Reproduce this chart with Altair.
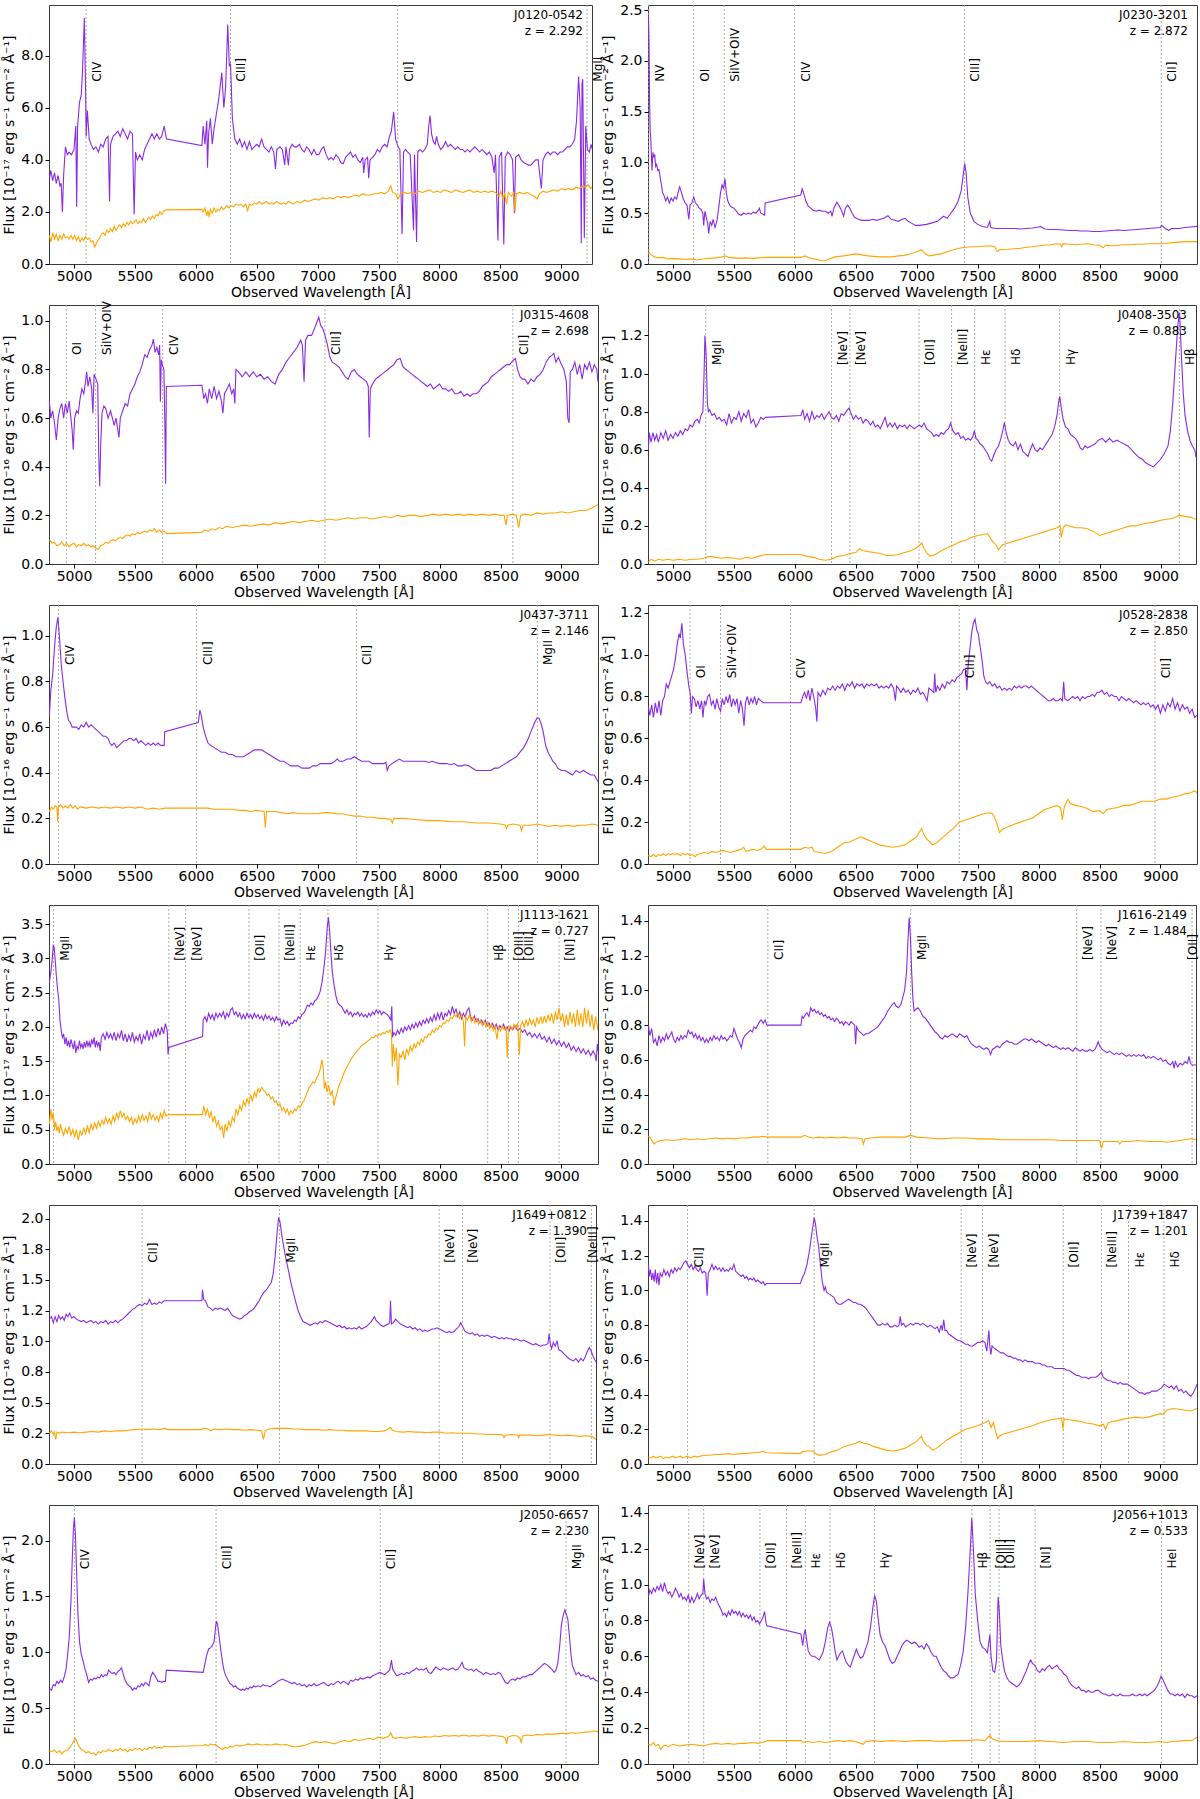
import altair as alt
import pandas as pd

# ---------------------------------------------------------------------------
# Spectra: (observed wavelength [Å], flux) pairs.
#   *_A : primary spectrum (purple trace)
#   *_B : secondary spectrum (orange trace)
# ---------------------------------------------------------------------------

J0120_A = [(4800,3.3),(4810,3.6),(4825,3.2),(4840,3.5),(4855,3.1),(4870,3.4),(4885,3.0),(4895,3.1),(4905,2.0),(4915,3.4),(4930,4.5),(4945,4.2),(4960,4.3),(4980,4.2),(5000,4.4),(5015,5.3),(5022,2.2),(5030,5.3),(5045,6.2),(5060,6.5),(5070,7.4),(5085,9.45),(5095,6.8),(5100,4.9),(5110,5.9),(5125,4.8),(5140,4.6),(5160,4.4),(5180,4.5),(5200,4.3),(5220,4.6),(5240,4.5),(5260,4.8),(5280,4.9),(5292,2.4),(5300,4.6),(5320,4.9),(5340,5.0),(5360,5.1),(5380,4.9),(5400,5.2),(5420,5.0),(5440,4.8),(5460,5.1),(5480,5.0),(5494,1.9),(5505,4.3),(5520,4.0),(5540,4.2),(5560,4.0),(5580,4.4),(5600,4.6),(5620,4.8),(5640,5.0),(5660,4.8),(5680,5.0),(5700,4.8),(5720,4.9),(5740,5.3),(5760,4.8),(6050,4.55),(6060,5.3),(6075,4.6),(6090,5.5),(6096,3.7),(6105,5.0),(6120,5.6),(6135,4.6),(6150,5.2),(6170,5.8),(6190,6.4),(6213,7.35),(6230,6.0),(6245,6.8),(6262,9.2),(6275,7.6),(6285,7.7),(6300,5.6),(6320,4.8),(6340,4.6),(6360,4.8),(6380,4.5),(6400,4.7),(6420,4.4),(6440,4.7),(6460,4.4),(6480,4.5),(6500,4.6),(6520,4.5),(6540,4.8),(6560,4.5),(6580,4.4),(6600,4.3),(6620,4.5),(6640,4.3),(6654,3.65),(6665,4.4),(6690,4.5),(6710,4.4),(6730,3.8),(6740,4.5),(6760,3.8),(6770,4.4),(6790,4.6),(6810,4.5),(6830,4.5),(6850,4.6),(6870,4.4),(6890,4.3),(6910,4.5),(6930,4.4),(6950,4.2),(6970,4.4),(6990,4.2),(7010,4.2),(7030,4.4),(7050,4.5),(7070,4.2),(7090,4.0),(7110,4.1),(7130,4.0),(7150,4.2),(7170,4.1),(7190,3.9),(7210,3.85),(7230,4.1),(7250,4.2),(7270,4.3),(7290,4.1),(7310,4.2),(7330,4.0),(7350,3.9),(7370,4.1),(7378,3.5),(7390,4.0),(7410,4.1),(7419,3.3),(7430,4.0),(7450,4.1),(7470,4.2),(7490,4.4),(7510,4.3),(7530,4.5),(7550,4.6),(7570,4.5),(7590,4.9),(7605,5.1),(7624,5.85),(7640,4.8),(7660,4.5),(7675,4.4),(7693,1.15),(7705,4.3),(7720,4.4),(7740,4.3),(7760,4.2),(7787,1.3),(7795,4.2),(7812,0.85),(7822,4.3),(7840,4.4),(7860,4.3),(7880,4.4),(7900,4.6),(7912,5.3),(7923,5.7),(7935,5.0),(7950,4.7),(7965,4.6),(7976,4.9),(7990,4.6),(8010,4.4),(8030,4.5),(8050,4.7),(8070,4.5),(8090,4.6),(8110,4.5),(8130,4.4),(8150,4.5),(8170,4.4),(8190,4.4),(8210,4.3),(8230,4.4),(8250,4.3),(8270,4.4),(8290,4.5),(8310,4.4),(8330,4.3),(8350,4.4),(8370,4.3),(8390,4.2),(8410,4.3),(8430,4.1),(8449,3.5),(8460,4.2),(8480,0.9),(8490,4.1),(8510,4.3),(8528,0.75),(8540,4.1),(8560,4.3),(8580,4.2),(8600,4.0),(8615,1.95),(8625,4.1),(8650,4.2),(8670,4.0),(8690,3.9),(8710,3.85),(8730,3.8),(8750,3.8),(8770,3.9),(8790,4.0),(8810,4.0),(8836,2.9),(8850,4.0),(8870,4.2),(8890,4.3),(8910,4.2),(8930,4.3),(8950,4.3),(8970,4.2),(8990,4.3),(9010,4.3),(9030,4.4),(9050,4.5),(9070,4.5),(9090,4.6),(9110,4.8),(9125,5.5),(9142,7.2),(9155,6.0),(9164,0.8),(9170,6.9),(9176,7.1),(9189,1.0),(9201,5.3),(9215,4.4),(9230,4.3),(9245,4.6),(9255,4.4)]
J0120_B = [(4798,1.1),(4810,0.85),(4825,1.2),(4840,0.95),(4855,1.15),(4870,0.9),(4885,1.1),(4900,0.95),(4915,1.15),(4930,1.0),(4945,1.05),(4960,0.95),(4975,1.1),(4990,0.95),(5005,1.1),(5020,0.9),(5035,1.05),(5050,0.85),(5065,1.0),(5080,0.9),(5095,1.05),(5110,0.95),(5125,1.0),(5140,0.85),(5155,0.9),(5170,0.65),(5180,0.75),(5195,0.9),(5210,1.0),(5225,1.15),(5240,1.2),(5255,1.1),(5270,1.3),(5285,1.2),(5300,1.35),(5315,1.25),(5330,1.45),(5345,1.3),(5360,1.4),(5375,1.5),(5390,1.4),(5405,1.55),(5420,1.45),(5435,1.6),(5450,1.5),(5465,1.65),(5480,1.55),(5495,1.6),(5510,1.7),(5525,1.55),(5540,1.65),(5555,1.6),(5570,1.75),(5585,1.6),(5600,1.7),(5615,1.8),(5630,1.7),(5645,1.85),(5660,1.75),(5675,1.9),(5690,1.85),(5705,2.0),(5720,1.9),(5740,2.05),(5760,2.08),(6050,2.1),(6060,2.0),(6075,2.15),(6090,1.85),(6100,2.05),(6110,1.8),(6120,2.1),(6135,1.95),(6150,2.15),(6165,2.0),(6180,2.1),(6195,2.05),(6210,2.2),(6225,2.1),(6240,2.15),(6255,2.25),(6270,2.15),(6290,2.25),(6310,2.2),(6330,2.3),(6350,2.25),(6370,2.3),(6390,2.2),(6410,2.3),(6425,2.05),(6440,2.3),(6460,2.25),(6480,2.35),(6500,2.3),(6520,2.4),(6540,2.3),(6560,2.35),(6580,2.4),(6600,2.3),(6620,2.35),(6640,2.3),(6660,2.4),(6680,2.35),(6700,2.3),(6720,2.35),(6740,2.3),(6760,2.4),(6780,2.35),(6800,2.3),(6830,2.4),(6860,2.35),(6890,2.45),(6920,2.4),(6950,2.45),(6980,2.5),(7010,2.45),(7040,2.55),(7070,2.5),(7100,2.55),(7130,2.5),(7160,2.6),(7190,2.55),(7220,2.6),(7250,2.55),(7280,2.6),(7310,2.65),(7340,2.6),(7370,2.7),(7400,2.65),(7430,2.65),(7460,2.7),(7490,2.7),(7520,2.75),(7550,2.7),(7580,2.8),(7600,3.0),(7615,2.75),(7640,2.7),(7660,2.5),(7680,2.7),(7710,2.75),(7740,2.7),(7770,2.75),(7800,2.7),(7830,2.8),(7860,2.75),(7890,2.8),(7920,2.85),(7950,2.75),(7980,2.8),(8010,2.75),(8040,2.85),(8070,2.8),(8100,2.75),(8130,2.85),(8160,2.8),(8190,2.75),(8220,2.8),(8250,2.85),(8280,2.75),(8310,2.8),(8340,2.75),(8370,2.8),(8400,2.75),(8430,2.8),(8460,2.75),(8490,2.6),(8505,2.8),(8520,2.5),(8535,2.7),(8550,2.3),(8565,2.75),(8590,2.6),(8610,2.75),(8620,2.0),(8630,2.7),(8660,2.75),(8690,2.7),(8720,2.75),(8750,2.65),(8780,2.6),(8800,2.5),(8820,2.7),(8850,2.8),(8880,2.75),(8910,2.8),(8940,2.85),(8970,2.8),(9000,2.9),(9030,2.85),(9060,2.9),(9090,2.85),(9120,2.95),(9150,2.9),(9180,3.0),(9200,2.95),(9220,3.05),(9240,2.9),(9255,2.95)]

J0230_A = [(4798,2.45),(4803,2.2),(4808,1.6),(4813,1.3),(4818,1.24),(4822,1.1),(4828,0.92),(4835,1.1),(4842,1.05),(4850,1.08),(4858,0.96),(4866,0.98),(4875,0.92),(4885,0.93),(4895,0.85),(4905,0.78),(4915,0.7),(4925,0.68),(4940,0.62),(4955,0.66),(4970,0.6),(4985,0.65),(5000,0.62),(5015,0.66),(5030,0.64),(5045,0.72),(5055,0.76),(5070,0.7),(5085,0.64),(5100,0.6),(5115,0.58),(5130,0.44),(5140,0.58),(5155,0.6),(5170,0.66),(5185,0.6),(5200,0.58),(5215,0.55),(5230,0.54),(5245,0.5),(5252,0.38),(5262,0.52),(5275,0.45),(5285,0.4),(5293,0.3),(5305,0.42),(5318,0.38),(5330,0.44),(5345,0.36),(5360,0.42),(5375,0.55),(5390,0.7),(5403,0.78),(5415,0.74),(5427,0.84),(5438,0.7),(5450,0.62),(5465,0.58),(5480,0.56),(5500,0.55),(5520,0.52),(5540,0.49),(5560,0.48),(5580,0.5),(5600,0.49),(5620,0.5),(5640,0.49),(5660,0.51),(5680,0.5),(5700,0.53),(5709,0.55),(5720,0.5),(5740,0.49),(5752,0.48),(5756,0.6),(6049,0.68),(6060,0.74),(6072,0.7),(6090,0.62),(6110,0.57),(6130,0.55),(6150,0.53),(6175,0.52),(6200,0.53),(6225,0.52),(6250,0.52),(6275,0.5),(6295,0.52),(6305,0.47),(6320,0.55),(6345,0.61),(6365,0.57),(6385,0.52),(6400,0.47),(6415,0.55),(6433,0.58),(6450,0.55),(6470,0.5),(6490,0.46),(6520,0.44),(6550,0.43),(6580,0.43),(6610,0.43),(6640,0.44),(6670,0.43),(6700,0.44),(6730,0.45),(6764,0.475),(6790,0.44),(6820,0.43),(6850,0.42),(6880,0.44),(6905,0.45),(6930,0.42),(6960,0.4),(6990,0.38),(7020,0.38),(7050,0.385),(7080,0.39),(7110,0.4),(7140,0.41),(7170,0.42),(7200,0.45),(7220,0.47),(7250,0.45),(7280,0.5),(7310,0.55),(7340,0.62),(7365,0.72),(7380,0.86),(7394,0.99),(7405,0.9),(7420,0.65),(7440,0.5),(7470,0.42),(7500,0.39),(7540,0.37),(7580,0.36),(7600,0.42),(7607,0.36),(7650,0.35),(7700,0.35),(7750,0.35),(7800,0.35),(7850,0.345),(7900,0.35),(7950,0.355),(8000,0.365),(8014,0.37),(8050,0.345),(8100,0.34),(8150,0.34),(8200,0.335),(8250,0.33),(8300,0.33),(8350,0.325),(8400,0.325),(8450,0.32),(8500,0.32),(8550,0.325),(8600,0.33),(8650,0.335),(8700,0.33),(8750,0.335),(8800,0.34),(8850,0.345),(8900,0.35),(8950,0.355),(9000,0.36),(9010,0.38),(9040,0.35),(9070,0.33),(9090,0.35),(9120,0.35),(9150,0.35),(9200,0.36),(9250,0.365),(9300,0.37)]
J0230_B = [(4798,0.12),(4820,0.09),(4850,0.07),(4880,0.06),(4920,0.065),(4960,0.05),(5000,0.055),(5050,0.05),(5100,0.045),(5150,0.05),(5200,0.04),(5250,0.05),(5300,0.055),(5350,0.06),(5400,0.07),(5430,0.08),(5460,0.065),(5500,0.06),(5550,0.055),(5600,0.06),(5650,0.055),(5700,0.06),(5756,0.065),(6049,0.065),(6080,0.08),(6120,0.06),(6160,0.05),(6200,0.04),(6240,0.03),(6280,0.05),(6330,0.07),(6400,0.08),(6450,0.09),(6500,0.1),(6550,0.09),(6600,0.08),(6650,0.075),(6700,0.07),(6750,0.07),(6800,0.07),(6850,0.08),(6900,0.085),(6950,0.1),(7000,0.12),(7040,0.14),(7070,0.1),(7100,0.08),(7150,0.09),(7200,0.1),(7250,0.12),(7300,0.14),(7350,0.155),(7400,0.165),(7450,0.17),(7500,0.17),(7550,0.175),(7600,0.18),(7640,0.17),(7660,0.125),(7680,0.14),(7750,0.145),(7800,0.15),(7850,0.155),(7900,0.165),(7950,0.17),(8000,0.18),(8050,0.185),(8100,0.19),(8150,0.2),(8180,0.195),(8190,0.17),(8200,0.2),(8250,0.195),(8300,0.19),(8350,0.195),(8400,0.2),(8450,0.19),(8500,0.185),(8530,0.16),(8550,0.185),(8600,0.18),(8650,0.185),(8700,0.19),(8750,0.19),(8800,0.195),(8850,0.195),(8900,0.2),(8950,0.2),(9000,0.2),(9050,0.205),(9100,0.21),(9150,0.215),(9200,0.22),(9250,0.22),(9300,0.22)]

J0315_A = [(4798,0.67),(4810,0.6),(4825,0.63),(4840,0.58),(4855,0.51),(4870,0.6),(4885,0.64),(4900,0.66),(4915,0.6),(4930,0.66),(4945,0.62),(4960,0.67),(4975,0.6),(4985,0.55),(4994,0.47),(5005,0.6),(5020,0.63),(5035,0.62),(5050,0.68),(5065,0.72),(5080,0.7),(5095,0.75),(5104,0.79),(5115,0.73),(5130,0.77),(5145,0.72),(5155,0.62),(5165,0.78),(5180,0.76),(5195,0.74),(5203,0.45),(5211,0.32),(5220,0.5),(5230,0.62),(5245,0.65),(5260,0.64),(5280,0.6),(5300,0.63),(5315,0.6),(5330,0.57),(5345,0.6),(5360,0.55),(5369,0.52),(5380,0.6),(5400,0.63),(5420,0.66),(5440,0.65),(5460,0.7),(5480,0.72),(5500,0.74),(5520,0.77),(5540,0.79),(5560,0.82),(5580,0.86),(5600,0.85),(5620,0.88),(5640,0.9),(5652,0.925),(5665,0.87),(5680,0.89),(5695,0.86),(5703,0.9),(5709,0.667),(5716,0.84),(5725,0.82),(5738,0.8),(5745,0.6),(5752,0.33),(5758,0.73),(6050,0.735),(6065,0.68),(6080,0.7),(6095,0.66),(6110,0.72),(6130,0.68),(6150,0.73),(6170,0.68),(6190,0.71),(6210,0.67),(6222,0.62),(6235,0.7),(6255,0.72),(6275,0.74),(6295,0.7),(6310,0.72),(6320,0.66),(6329,0.8),(6350,0.79),(6380,0.77),(6410,0.79),(6440,0.77),(6470,0.79),(6500,0.77),(6530,0.78),(6560,0.76),(6590,0.77),(6620,0.75),(6650,0.74),(6680,0.78),(6710,0.8),(6740,0.83),(6770,0.85),(6800,0.87),(6830,0.89),(6860,0.92),(6874,0.9),(6888,0.75),(6900,0.92),(6920,0.94),(6950,0.94),(6975,0.97),(6990,0.99),(7009,1.014),(7025,0.98),(7040,0.97),(7060,0.94),(7080,0.9),(7100,0.85),(7120,0.83),(7150,0.82),(7175,0.81),(7200,0.79),(7225,0.77),(7250,0.76),(7275,0.79),(7300,0.8),(7325,0.78),(7350,0.77),(7375,0.76),(7400,0.75),(7415,0.73),(7423,0.52),(7432,0.72),(7450,0.74),(7475,0.76),(7500,0.77),(7525,0.78),(7550,0.79),(7575,0.8),(7600,0.81),(7625,0.82),(7650,0.84),(7677,0.845),(7700,0.81),(7725,0.8),(7750,0.79),(7775,0.78),(7800,0.77),(7825,0.76),(7850,0.75),(7875,0.74),(7900,0.73),(7925,0.74),(7950,0.72),(7975,0.73),(8000,0.74),(8025,0.72),(8050,0.72),(8075,0.71),(8100,0.72),(8125,0.7),(8150,0.7),(8175,0.71),(8200,0.69),(8225,0.7),(8250,0.69),(8275,0.7),(8300,0.7),(8325,0.71),(8350,0.73),(8375,0.74),(8400,0.75),(8425,0.77),(8450,0.78),(8475,0.79),(8500,0.8),(8525,0.81),(8550,0.82),(8575,0.82),(8600,0.835),(8622,0.845),(8640,0.8),(8660,0.77),(8680,0.76),(8700,0.76),(8725,0.74),(8750,0.76),(8775,0.75),(8800,0.77),(8825,0.78),(8850,0.8),(8875,0.83),(8900,0.85),(8925,0.86),(8937,0.866),(8955,0.83),(8975,0.85),(9000,0.82),(9020,0.8),(9040,0.75),(9052,0.6),(9063,0.58),(9072,0.79),(9090,0.8),(9110,0.83),(9130,0.78),(9150,0.82),(9170,0.76),(9190,0.82),(9210,0.8),(9230,0.83),(9250,0.79),(9270,0.82),(9290,0.8),(9300,0.75)]
J0315_B = [(4798,0.1),(4820,0.085),(4840,0.09),(4860,0.075),(4880,0.08),(4900,0.09),(4920,0.075),(4940,0.085),(4960,0.07),(4980,0.08),(5000,0.085),(5020,0.07),(5040,0.08),(5060,0.075),(5080,0.085),(5100,0.075),(5120,0.08),(5140,0.07),(5160,0.075),(5180,0.065),(5200,0.06),(5220,0.075),(5240,0.08),(5260,0.09),(5280,0.085),(5300,0.095),(5320,0.1),(5340,0.095),(5360,0.105),(5380,0.11),(5400,0.105),(5420,0.115),(5440,0.12),(5460,0.115),(5480,0.125),(5500,0.12),(5520,0.13),(5540,0.125),(5560,0.13),(5580,0.135),(5600,0.13),(5620,0.14),(5640,0.135),(5660,0.145),(5680,0.13),(5700,0.14),(5720,0.13),(5740,0.135),(5758,0.125),(6050,0.13),(6070,0.14),(6100,0.135),(6130,0.145),(6160,0.14),(6190,0.15),(6220,0.145),(6250,0.155),(6300,0.15),(6350,0.155),(6400,0.16),(6450,0.155),(6500,0.16),(6550,0.165),(6600,0.16),(6650,0.17),(6700,0.165),(6750,0.17),(6800,0.175),(6850,0.17),(6900,0.175),(6950,0.18),(7000,0.175),(7050,0.18),(7100,0.185),(7150,0.18),(7200,0.185),(7250,0.19),(7300,0.185),(7350,0.19),(7400,0.19),(7450,0.185),(7500,0.19),(7550,0.195),(7600,0.19),(7650,0.2),(7700,0.195),(7750,0.2),(7800,0.2),(7850,0.195),(7900,0.2),(7950,0.205),(8000,0.2),(8050,0.205),(8100,0.2),(8150,0.205),(8200,0.2),(8250,0.205),(8300,0.2),(8350,0.205),(8400,0.2),(8450,0.205),(8500,0.2),(8530,0.2),(8545,0.16),(8555,0.2),(8600,0.205),(8630,0.2),(8650,0.15),(8665,0.2),(8700,0.205),(8750,0.2),(8800,0.21),(8850,0.205),(8900,0.21),(8950,0.21),(9000,0.215),(9050,0.21),(9100,0.215),(9150,0.22),(9200,0.22),(9250,0.23),(9300,0.245)]

J0408_A = [(4798,0.6),(4805,0.69),(4820,0.64),(4835,0.69),(4850,0.65),(4865,0.68),(4880,0.64),(4900,0.69),(4920,0.66),(4940,0.7),(4960,0.65),(4980,0.68),(5000,0.66),(5020,0.69),(5040,0.67),(5060,0.7),(5080,0.68),(5100,0.71),(5120,0.7),(5140,0.73),(5160,0.72),(5180,0.75),(5200,0.76),(5215,0.74),(5230,0.78),(5245,0.8),(5255,1.0),(5262,1.2),(5272,1.1),(5282,0.85),(5290,0.8),(5300,0.81),(5320,0.78),(5340,0.79),(5360,0.76),(5380,0.77),(5400,0.75),(5420,0.76),(5440,0.73),(5460,0.79),(5480,0.74),(5500,0.77),(5520,0.76),(5540,0.8),(5560,0.75),(5580,0.79),(5600,0.77),(5620,0.81),(5640,0.74),(5660,0.76),(5680,0.72),(5700,0.74),(5720,0.77),(5740,0.76),(5760,0.77),(6050,0.78),(6065,0.81),(6080,0.76),(6100,0.79),(6120,0.75),(6140,0.8),(6160,0.76),(6180,0.78),(6200,0.77),(6220,0.79),(6240,0.76),(6260,0.78),(6280,0.8),(6300,0.77),(6320,0.76),(6340,0.78),(6360,0.75),(6380,0.79),(6400,0.78),(6420,0.8),(6445,0.82),(6460,0.79),(6480,0.76),(6500,0.78),(6520,0.76),(6540,0.77),(6560,0.74),(6580,0.76),(6600,0.75),(6620,0.73),(6640,0.75),(6660,0.72),(6680,0.73),(6700,0.71),(6720,0.74),(6740,0.77),(6760,0.72),(6780,0.74),(6800,0.72),(6820,0.74),(6840,0.71),(6860,0.73),(6880,0.72),(6900,0.73),(6920,0.71),(6940,0.73),(6960,0.72),(6980,0.71),(7000,0.72),(7020,0.73),(7040,0.72),(7060,0.74),(7080,0.71),(7100,0.7),(7120,0.69),(7140,0.67),(7160,0.68),(7180,0.67),(7200,0.69),(7220,0.68),(7240,0.7),(7260,0.71),(7277,0.74),(7295,0.7),(7320,0.68),(7340,0.69),(7360,0.66),(7380,0.67),(7400,0.65),(7420,0.66),(7440,0.65),(7460,0.67),(7472,0.7),(7485,0.66),(7500,0.65),(7520,0.63),(7540,0.62),(7560,0.6),(7580,0.58),(7600,0.55),(7614,0.54),(7630,0.57),(7650,0.6),(7670,0.62),(7690,0.66),(7705,0.7),(7718,0.743),(7730,0.7),(7750,0.65),(7770,0.63),(7790,0.62),(7810,0.64),(7830,0.6),(7850,0.63),(7870,0.59),(7890,0.58),(7913,0.565),(7930,0.6),(7950,0.63),(7970,0.6),(7990,0.59),(8010,0.61),(8030,0.6),(8050,0.62),(8070,0.64),(8090,0.66),(8110,0.68),(8130,0.72),(8150,0.78),(8165,0.86),(8172,0.88),(8185,0.82),(8200,0.76),(8220,0.72),(8240,0.71),(8260,0.68),(8280,0.67),(8300,0.66),(8320,0.64),(8340,0.61),(8360,0.6),(8380,0.62),(8400,0.61),(8430,0.62),(8460,0.63),(8490,0.65),(8520,0.66),(8550,0.64),(8580,0.66),(8610,0.64),(8640,0.65),(8670,0.64),(8700,0.63),(8730,0.62),(8760,0.6),(8790,0.58),(8820,0.56),(8850,0.55),(8880,0.53),(8910,0.52),(8940,0.51),(8970,0.53),(9000,0.55),(9030,0.58),(9060,0.62),(9080,0.7),(9100,0.85),(9120,1.05),(9140,1.25),(9155,1.32),(9170,1.1),(9185,0.9),(9200,0.78),(9220,0.7),(9240,0.65),(9260,0.62),(9280,0.6),(9290,0.56)]
J0408_B = [(4798,0.01),(4820,0.025),(4850,0.015),(4880,0.025),(4920,0.02),(4960,0.025),(5000,0.02),(5050,0.025),(5100,0.02),(5150,0.025),(5200,0.025),(5250,0.03),(5300,0.04),(5350,0.035),(5400,0.03),(5450,0.035),(5500,0.03),(5550,0.025),(5600,0.035),(5650,0.03),(5700,0.04),(5760,0.05),(6050,0.05),(6100,0.04),(6150,0.035),(6200,0.025),(6250,0.02),(6300,0.025),(6350,0.04),(6400,0.045),(6450,0.055),(6500,0.06),(6530,0.08),(6560,0.07),(6600,0.065),(6650,0.06),(6700,0.055),(6750,0.045),(6800,0.045),(6850,0.05),(6900,0.06),(6950,0.07),(7000,0.085),(7040,0.11),(7060,0.08),(7080,0.06),(7110,0.04),(7150,0.05),(7200,0.07),(7250,0.085),(7300,0.1),(7350,0.115),(7400,0.125),(7450,0.14),(7500,0.15),(7550,0.155),(7580,0.16),(7600,0.14),(7620,0.12),(7650,0.1),(7670,0.075),(7700,0.1),(7750,0.11),(7800,0.12),(7850,0.13),(7900,0.14),(7950,0.15),(8000,0.16),(8050,0.17),(8100,0.18),(8150,0.19),(8175,0.2),(8185,0.14),(8200,0.19),(8220,0.205),(8250,0.2),(8300,0.19),(8350,0.19),(8400,0.185),(8450,0.17),(8500,0.15),(8550,0.16),(8600,0.17),(8650,0.18),(8700,0.19),(8750,0.2),(8800,0.2),(8850,0.21),(8900,0.215),(8950,0.22),(9000,0.23),(9050,0.235),(9100,0.24),(9150,0.255),(9200,0.25),(9250,0.245),(9290,0.235)]

J0437_A = [(4798,0.65),(4810,0.76),(4825,0.83),(4840,0.95),(4855,1.04),(4868,1.08),(4880,1.0),(4895,0.88),(4910,0.8),(4925,0.73),(4940,0.67),(4955,0.63),(4970,0.62),(4985,0.6),(5000,0.6),(5020,0.6),(5040,0.59),(5060,0.61),(5080,0.6),(5100,0.62),(5120,0.6),(5140,0.61),(5160,0.6),(5180,0.59),(5200,0.58),(5220,0.57),(5240,0.56),(5260,0.56),(5280,0.55),(5295,0.53),(5310,0.52),(5330,0.53),(5350,0.51),(5370,0.52),(5390,0.53),(5410,0.54),(5430,0.54),(5450,0.55),(5470,0.55),(5490,0.54),(5510,0.55),(5530,0.53),(5550,0.54),(5570,0.53),(5590,0.52),(5610,0.53),(5630,0.52),(5650,0.53),(5670,0.52),(5690,0.53),(5710,0.52),(5740,0.52),(5745,0.58),(6020,0.62),(6033,0.674),(6045,0.65),(6060,0.6),(6080,0.56),(6100,0.53),(6120,0.52),(6150,0.51),(6180,0.5),(6210,0.49),(6240,0.49),(6270,0.48),(6300,0.48),(6330,0.47),(6360,0.47),(6390,0.47),(6420,0.48),(6450,0.49),(6480,0.5),(6510,0.5),(6540,0.5),(6570,0.49),(6600,0.48),(6630,0.47),(6660,0.46),(6690,0.45),(6720,0.45),(6750,0.44),(6780,0.43),(6810,0.43),(6840,0.43),(6870,0.42),(6900,0.42),(6930,0.42),(6960,0.43),(6990,0.43),(7020,0.44),(7050,0.44),(7080,0.44),(7110,0.44),(7140,0.45),(7160,0.46),(7180,0.45),(7210,0.45),(7240,0.46),(7270,0.46),(7300,0.47),(7330,0.46),(7360,0.45),(7390,0.45),(7420,0.45),(7450,0.44),(7480,0.44),(7510,0.44),(7540,0.44),(7560,0.445),(7570,0.41),(7585,0.43),(7610,0.44),(7640,0.45),(7670,0.46),(7700,0.45),(7730,0.45),(7760,0.45),(7790,0.45),(7820,0.45),(7850,0.45),(7880,0.45),(7910,0.445),(7940,0.45),(7970,0.445),(8000,0.44),(8030,0.44),(8060,0.44),(8090,0.435),(8120,0.44),(8150,0.43),(8180,0.43),(8210,0.435),(8240,0.43),(8270,0.42),(8300,0.41),(8330,0.41),(8360,0.41),(8390,0.41),(8420,0.41),(8450,0.42),(8480,0.42),(8510,0.43),(8540,0.44),(8570,0.45),(8600,0.46),(8630,0.47),(8660,0.49),(8690,0.51),(8720,0.54),(8750,0.58),(8780,0.62),(8800,0.64),(8815,0.64),(8830,0.62),(8850,0.58),(8870,0.52),(8890,0.49),(8910,0.47),(8930,0.45),(8950,0.44),(8970,0.42),(9000,0.41),(9030,0.41),(9060,0.4),(9090,0.39),(9120,0.41),(9150,0.4),(9180,0.41),(9210,0.4),(9240,0.39),(9270,0.39),(9300,0.36)]
J0437_B = [(4798,0.23),(4815,0.25),(4830,0.24),(4845,0.255),(4860,0.25),(4866,0.185),(4872,0.25),(4890,0.26),(4910,0.245),(4930,0.255),(4950,0.245),(4970,0.26),(4990,0.245),(5010,0.255),(5030,0.24),(5050,0.25),(5100,0.245),(5150,0.25),(5200,0.245),(5250,0.25),(5300,0.245),(5350,0.25),(5400,0.245),(5450,0.25),(5500,0.245),(5550,0.25),(5600,0.24),(5650,0.245),(5700,0.24),(5745,0.245),(6050,0.245),(6100,0.245),(6150,0.24),(6200,0.24),(6250,0.24),(6300,0.24),(6350,0.235),(6400,0.235),(6450,0.23),(6500,0.235),(6560,0.23),(6570,0.16),(6580,0.23),(6650,0.23),(6700,0.225),(6750,0.22),(6800,0.225),(6850,0.22),(6900,0.22),(6950,0.22),(7000,0.22),(7050,0.225),(7100,0.225),(7150,0.22),(7200,0.22),(7250,0.215),(7300,0.21),(7350,0.21),(7400,0.205),(7450,0.205),(7500,0.2),(7550,0.2),(7600,0.195),(7612,0.18),(7625,0.2),(7700,0.2),(7800,0.195),(7900,0.19),(8000,0.19),(8100,0.185),(8200,0.185),(8300,0.18),(8400,0.18),(8500,0.175),(8540,0.17),(8550,0.155),(8560,0.17),(8600,0.175),(8660,0.17),(8672,0.145),(8685,0.17),(8750,0.17),(8800,0.175),(8850,0.17),(8900,0.165),(8950,0.17),(9000,0.165),(9050,0.17),(9100,0.165),(9150,0.17),(9200,0.17),(9250,0.175),(9300,0.17)]

J0528_A = [(4798,0.75),(4810,0.71),(4825,0.76),(4840,0.7),(4855,0.77),(4870,0.72),(4885,0.78),(4900,0.71),(4915,0.78),(4930,0.8),(4945,0.86),(4960,0.84),(4975,0.87),(4990,0.9),(5005,0.93),(5020,0.98),(5035,1.05),(5050,1.1),(5060,1.08),(5073,1.15),(5085,1.05),(5100,1.0),(5115,0.92),(5130,0.85),(5140,0.82),(5151,0.72),(5160,0.8),(5175,0.79),(5190,0.75),(5205,0.78),(5220,0.74),(5235,0.78),(5246,0.7),(5258,0.78),(5270,0.76),(5285,0.8),(5300,0.81),(5315,0.76),(5330,0.78),(5345,0.74),(5360,0.79),(5375,0.75),(5390,0.73),(5405,0.79),(5420,0.76),(5435,0.8),(5450,0.77),(5465,0.81),(5480,0.75),(5495,0.79),(5510,0.76),(5525,0.79),(5540,0.72),(5555,0.78),(5570,0.74),(5583,0.66),(5595,0.77),(5610,0.8),(5625,0.76),(5640,0.79),(5655,0.77),(5670,0.8),(5685,0.76),(5700,0.79),(5720,0.78),(5740,0.77),(5760,0.77),(6050,0.77),(6065,0.8),(6080,0.82),(6095,0.79),(6110,0.83),(6125,0.78),(6140,0.84),(6155,0.8),(6170,0.75),(6181,0.68),(6190,0.82),(6210,0.8),(6230,0.83),(6250,0.81),(6270,0.84),(6290,0.83),(6310,0.85),(6330,0.83),(6350,0.85),(6370,0.84),(6390,0.86),(6410,0.83),(6430,0.86),(6450,0.85),(6470,0.87),(6490,0.84),(6510,0.86),(6530,0.85),(6550,0.86),(6570,0.84),(6590,0.86),(6610,0.85),(6630,0.86),(6650,0.85),(6670,0.86),(6690,0.84),(6710,0.85),(6730,0.84),(6750,0.85),(6770,0.84),(6790,0.86),(6810,0.84),(6825,0.78),(6835,0.85),(6850,0.84),(6870,0.82),(6890,0.84),(6910,0.82),(6930,0.83),(6950,0.81),(6970,0.83),(6990,0.82),(7010,0.84),(7030,0.81),(7050,0.82),(7070,0.8),(7085,0.78),(7100,0.84),(7120,0.83),(7140,0.82),(7148,0.91),(7156,0.82),(7170,0.85),(7190,0.83),(7210,0.86),(7230,0.84),(7250,0.87),(7270,0.86),(7290,0.88),(7310,0.87),(7330,0.89),(7350,0.9),(7370,0.91),(7385,0.93),(7400,0.93),(7412,0.83),(7422,0.95),(7435,1.02),(7450,1.1),(7465,1.15),(7479,1.17),(7492,1.12),(7505,1.1),(7520,1.04),(7535,0.98),(7550,0.9),(7565,0.87),(7580,0.86),(7600,0.87),(7620,0.85),(7640,0.86),(7660,0.84),(7680,0.85),(7700,0.83),(7720,0.84),(7740,0.83),(7760,0.84),(7780,0.83),(7800,0.85),(7820,0.84),(7840,0.85),(7860,0.84),(7880,0.85),(7900,0.85),(7920,0.84),(7940,0.85),(7960,0.84),(7980,0.83),(8000,0.82),(8020,0.81),(8040,0.8),(8060,0.79),(8080,0.78),(8100,0.78),(8120,0.79),(8140,0.78),(8160,0.78),(8180,0.79),(8195,0.78),(8206,0.87),(8215,0.79),(8240,0.78),(8260,0.79),(8280,0.8),(8300,0.79),(8320,0.8),(8340,0.78),(8360,0.8),(8380,0.79),(8400,0.8),(8420,0.8),(8440,0.81),(8460,0.8),(8480,0.82),(8500,0.82),(8520,0.83),(8540,0.81),(8560,0.82),(8580,0.8),(8600,0.81),(8620,0.8),(8640,0.8),(8660,0.78),(8680,0.8),(8700,0.79),(8720,0.78),(8740,0.79),(8760,0.78),(8780,0.77),(8800,0.78),(8820,0.77),(8840,0.76),(8860,0.77),(8880,0.76),(8900,0.77),(8920,0.75),(8940,0.76),(8960,0.74),(8980,0.76),(9000,0.72),(9020,0.76),(9040,0.73),(9060,0.77),(9080,0.75),(9100,0.79),(9120,0.74),(9140,0.77),(9160,0.73),(9180,0.76),(9200,0.74),(9220,0.75),(9240,0.72),(9260,0.74),(9280,0.7),(9300,0.71)]
J0528_B = [(4798,0.04),(4820,0.035),(4840,0.045),(4860,0.035),(4880,0.045),(4900,0.04),(4920,0.05),(4940,0.04),(4960,0.05),(4980,0.045),(5000,0.05),(5020,0.045),(5040,0.05),(5060,0.04),(5080,0.05),(5100,0.045),(5120,0.05),(5140,0.04),(5160,0.045),(5180,0.035),(5200,0.045),(5230,0.05),(5260,0.055),(5290,0.05),(5320,0.06),(5350,0.055),(5380,0.06),(5410,0.065),(5440,0.06),(5470,0.055),(5500,0.06),(5530,0.065),(5560,0.07),(5580,0.08),(5600,0.06),(5630,0.065),(5660,0.07),(5690,0.065),(5720,0.07),(5750,0.085),(5765,0.07),(6050,0.07),(6080,0.08),(6110,0.075),(6140,0.08),(6160,0.06),(6200,0.055),(6250,0.05),(6300,0.06),(6350,0.08),(6400,0.1),(6450,0.105),(6500,0.12),(6540,0.13),(6580,0.12),(6620,0.11),(6660,0.1),(6700,0.09),(6750,0.085),(6800,0.08),(6850,0.085),(6900,0.09),(6950,0.11),(7000,0.13),(7040,0.17),(7060,0.14),(7080,0.12),(7100,0.11),(7130,0.09),(7160,0.1),(7200,0.12),(7250,0.145),(7300,0.17),(7350,0.2),(7400,0.21),(7450,0.22),(7500,0.23),(7550,0.24),(7600,0.245),(7620,0.24),(7640,0.22),(7660,0.19),(7680,0.15),(7700,0.165),(7720,0.17),(7760,0.18),(7800,0.19),(7850,0.2),(7900,0.21),(7950,0.22),(8000,0.24),(8050,0.26),(8100,0.27),(8150,0.28),(8180,0.27),(8195,0.21),(8210,0.27),(8240,0.31),(8260,0.29),(8300,0.28),(8350,0.275),(8400,0.265),(8450,0.25),(8500,0.255),(8530,0.24),(8560,0.26),(8600,0.265),(8650,0.27),(8700,0.28),(8750,0.28),(8800,0.29),(8850,0.3),(8900,0.3),(8950,0.3),(9000,0.31),(9050,0.31),(9100,0.32),(9150,0.325),(9200,0.335),(9250,0.34),(9280,0.35),(9300,0.34)]

J1113_A = [(4798,2.65),(4810,2.8),(4820,2.95),(4830,3.2),(4838,3.15),(4845,3.0),(4855,2.75),(4865,2.55),(4875,2.4),(4885,2.1),(4895,1.95),(4905,1.85),(4915,1.9),(4925,1.75),(4935,1.85),(4945,1.72),(4955,1.8),(4965,1.7),(4975,1.82),(4985,1.75),(4995,1.68),(5005,1.8),(5015,1.62),(5025,1.72),(5035,1.68),(5045,1.8),(5055,1.7),(5065,1.75),(5075,1.68),(5085,1.78),(5095,1.7),(5105,1.8),(5115,1.72),(5125,1.78),(5135,1.7),(5145,1.82),(5155,1.75),(5165,1.85),(5175,1.7),(5185,1.8),(5195,1.72),(5205,1.78),(5215,1.65),(5225,1.85),(5240,1.9),(5255,1.82),(5270,1.92),(5285,1.84),(5300,1.9),(5315,1.82),(5330,1.92),(5345,1.8),(5360,1.9),(5375,1.84),(5390,1.95),(5405,1.8),(5420,1.9),(5435,1.78),(5450,1.88),(5465,1.8),(5480,1.92),(5495,1.78),(5510,1.86),(5525,1.8),(5540,1.9),(5555,1.75),(5570,1.88),(5585,1.82),(5600,1.95),(5615,1.8),(5630,1.92),(5645,1.84),(5660,1.96),(5675,1.85),(5690,1.98),(5705,1.88),(5720,2.0),(5735,1.9),(5750,2.05),(5765,1.95),(5772,1.6),(5778,1.7),(6055,1.86),(6060,2.1),(6075,2.15),(6090,2.08),(6105,2.2),(6120,2.12),(6135,2.18),(6150,2.1),(6165,2.2),(6180,2.14),(6195,2.2),(6210,2.15),(6225,2.22),(6240,2.12),(6255,2.2),(6270,2.15),(6285,2.25),(6300,2.28),(6315,2.18),(6330,2.22),(6345,2.15),(6360,2.2),(6375,2.12),(6390,2.18),(6405,2.12),(6420,2.2),(6435,2.14),(6450,2.18),(6465,2.12),(6480,2.2),(6495,2.14),(6510,2.18),(6525,2.12),(6540,2.16),(6555,2.1),(6570,2.18),(6585,2.12),(6600,2.16),(6615,2.1),(6630,2.14),(6645,2.08),(6660,2.15),(6675,2.1),(6690,2.12),(6705,2.02),(6720,2.1),(6735,2.04),(6750,2.08),(6765,2.02),(6780,2.06),(6795,2.05),(6810,2.1),(6825,2.08),(6840,2.15),(6855,2.12),(6870,2.18),(6885,2.2),(6900,2.25),(6915,2.32),(6930,2.3),(6945,2.35),(6960,2.32),(6975,2.38),(6990,2.4),(7005,2.45),(7020,2.52),(7035,2.65),(7050,2.85),(7065,3.1),(7078,3.45),(7088,3.6),(7098,3.4),(7108,3.1),(7120,2.8),(7135,2.6),(7150,2.45),(7165,2.35),(7180,2.32),(7195,2.3),(7210,2.25),(7225,2.2),(7240,2.25),(7255,2.18),(7270,2.22),(7285,2.15),(7300,2.2),(7315,2.18),(7330,2.22),(7345,2.16),(7360,2.2),(7375,2.15),(7390,2.18),(7405,2.14),(7420,2.2),(7435,2.16),(7450,2.22),(7465,2.18),(7480,2.25),(7495,2.2),(7510,2.24),(7525,2.18),(7540,2.22),(7555,2.2),(7570,2.18),(7585,2.15),(7600,2.1),(7608,2.3),(7614,1.85),(7625,1.92),(7640,1.88),(7655,1.95),(7670,1.9),(7685,1.98),(7700,1.92),(7715,2.0),(7730,1.95),(7745,2.02),(7760,1.96),(7775,2.04),(7790,1.98),(7805,2.06),(7820,2.0),(7835,2.08),(7850,2.02),(7865,2.1),(7880,2.05),(7895,2.12),(7910,2.06),(7925,2.14),(7940,2.08),(7955,2.18),(7970,2.1),(7985,2.2),(8000,2.12),(8015,2.22),(8030,2.1),(8045,2.2),(8060,2.16),(8075,2.24),(8090,2.18),(8105,2.3),(8120,2.2),(8135,2.26),(8150,2.15),(8165,2.22),(8180,2.12),(8195,2.2),(8210,2.14),(8225,2.24),(8240,2.28),(8255,2.15),(8270,2.1),(8285,2.16),(8300,2.08),(8315,2.12),(8330,2.06),(8345,2.1),(8360,2.04),(8375,2.1),(8390,2.02),(8405,2.06),(8420,2.0),(8435,2.05),(8450,1.98),(8465,2.04),(8480,1.96),(8495,2.02),(8510,1.98),(8525,2.04),(8540,1.96),(8555,2.0),(8570,1.94),(8585,2.0),(8600,1.96),(8620,2.02),(8640,1.95),(8660,1.98),(8680,1.92),(8700,1.96),(8720,1.88),(8740,1.92),(8760,1.85),(8780,1.9),(8800,1.84),(8820,1.9),(8840,1.82),(8860,1.86),(8880,1.78),(8900,1.85),(8920,1.76),(8940,1.82),(8960,1.74),(8980,1.8),(9000,1.72),(9020,1.78),(9040,1.7),(9060,1.76),(9080,1.66),(9100,1.72),(9120,1.64),(9140,1.7),(9160,1.62),(9180,1.68),(9200,1.6),(9220,1.66),(9240,1.58),(9260,1.65),(9275,1.6),(9285,1.5),(9295,1.75),(9300,1.65)]
J1113_B = [(4798,0.58),(4810,0.8),(4820,0.65),(4830,0.75),(4840,0.5),(4850,0.62),(4860,0.48),(4870,0.55),(4880,0.45),(4890,0.58),(4900,0.5),(4915,0.42),(4930,0.52),(4945,0.45),(4960,0.55),(4975,0.42),(4990,0.5),(5005,0.4),(5020,0.5),(5035,0.35),(5050,0.48),(5065,0.42),(5080,0.52),(5095,0.44),(5110,0.55),(5125,0.46),(5140,0.58),(5155,0.5),(5170,0.6),(5185,0.52),(5200,0.62),(5215,0.55),(5230,0.64),(5245,0.58),(5260,0.68),(5275,0.6),(5290,0.66),(5305,0.58),(5320,0.7),(5335,0.62),(5350,0.75),(5365,0.66),(5380,0.78),(5395,0.68),(5410,0.74),(5425,0.65),(5440,0.7),(5455,0.62),(5470,0.68),(5485,0.58),(5500,0.66),(5515,0.6),(5530,0.7),(5545,0.62),(5560,0.72),(5575,0.64),(5590,0.7),(5605,0.62),(5620,0.76),(5635,0.66),(5650,0.72),(5665,0.64),(5680,0.7),(5695,0.62),(5710,0.74),(5725,0.66),(5740,0.78),(5755,0.7),(5770,0.72),(6055,0.72),(6065,0.85),(6080,0.72),(6095,0.8),(6110,0.68),(6125,0.76),(6140,0.62),(6155,0.7),(6170,0.55),(6185,0.62),(6200,0.5),(6215,0.55),(6228,0.38),(6240,0.58),(6255,0.48),(6270,0.62),(6285,0.55),(6300,0.68),(6315,0.62),(6330,0.8),(6345,0.72),(6360,0.85),(6375,0.78),(6390,0.92),(6405,0.85),(6420,0.95),(6435,0.88),(6450,1.0),(6465,0.92),(6480,1.05),(6495,0.98),(6510,1.1),(6525,1.05),(6540,1.12),(6555,1.08),(6570,1.05),(6585,1.0),(6600,1.02),(6615,0.95),(6630,0.98),(6645,0.9),(6660,0.92),(6675,0.85),(6690,0.88),(6705,0.78),(6720,0.82),(6735,0.75),(6750,0.8),(6765,0.72),(6780,0.78),(6795,0.74),(6810,0.8),(6825,0.78),(6840,0.85),(6855,0.82),(6870,0.88),(6885,0.92),(6900,0.98),(6915,1.05),(6930,1.12),(6945,1.15),(6960,1.2),(6975,1.18),(6990,1.25),(7005,1.3),(7020,1.38),(7035,1.52),(7045,1.4),(7055,1.1),(7065,1.2),(7075,1.05),(7090,1.15),(7105,1.0),(7120,1.08),(7132,0.85),(7145,0.95),(7160,1.05),(7175,1.15),(7190,1.2),(7205,1.28),(7220,1.35),(7235,1.4),(7250,1.45),(7265,1.5),(7280,1.55),(7295,1.58),(7310,1.62),(7325,1.66),(7340,1.68),(7355,1.72),(7370,1.74),(7385,1.76),(7400,1.78),(7415,1.8),(7430,1.82),(7445,1.85),(7460,1.84),(7475,1.88),(7490,1.86),(7505,1.9),(7520,1.88),(7535,1.92),(7550,1.9),(7565,1.94),(7580,1.92),(7595,1.96),(7605,1.9),(7612,1.42),(7620,1.75),(7632,1.5),(7645,1.7),(7658,1.15),(7670,1.6),(7685,1.55),(7700,1.65),(7715,1.52),(7730,1.68),(7745,1.6),(7760,1.72),(7775,1.65),(7790,1.75),(7805,1.7),(7820,1.78),(7835,1.74),(7850,1.82),(7865,1.78),(7880,1.86),(7895,1.84),(7910,1.9),(7925,1.88),(7940,1.95),(7955,1.92),(7970,1.98),(7985,1.96),(8000,2.02),(8015,2.0),(8030,2.06),(8045,2.05),(8060,2.1),(8075,2.08),(8090,2.14),(8105,2.12),(8120,2.18),(8135,2.15),(8150,2.2),(8165,2.12),(8180,2.18),(8195,2.08),(8205,1.72),(8215,2.15),(8230,2.1),(8245,2.18),(8260,2.08),(8275,2.14),(8290,2.06),(8305,2.12),(8320,2.04),(8335,2.1),(8350,2.02),(8365,2.08),(8380,2.0),(8395,2.06),(8410,1.98),(8425,2.05),(8440,1.95),(8455,2.02),(8470,1.82),(8485,2.0),(8500,1.94),(8515,2.02),(8530,1.96),(8545,2.0),(8555,1.55),(8565,1.98),(8580,2.02),(8595,1.96),(8610,2.04),(8625,1.98),(8640,2.06),(8655,1.6),(8665,2.02),(8680,2.08),(8695,2.0),(8710,2.1),(8725,2.02),(8740,2.12),(8755,2.04),(8770,2.1),(8785,2.0),(8800,2.14),(8815,2.04),(8830,2.15),(8845,2.05),(8860,2.16),(8875,2.06),(8890,2.18),(8905,2.08),(8920,2.2),(8935,2.05),(8950,2.22),(8965,2.1),(8980,2.28),(8995,2.08),(9010,2.2),(9025,2.0),(9040,2.18),(9055,2.02),(9070,2.22),(9085,2.05),(9100,2.2),(9115,2.0),(9130,2.25),(9145,2.02),(9160,2.2),(9175,2.0),(9190,2.28),(9205,2.05),(9220,2.25),(9235,2.0),(9250,2.18),(9265,1.95),(9280,2.15),(9300,1.95)]

J1616_A = [(4798,0.8),(4810,0.74),(4825,0.78),(4840,0.7),(4855,0.72),(4870,0.68),(4885,0.74),(4900,0.7),(4915,0.73),(4930,0.71),(4945,0.75),(4960,0.72),(4975,0.74),(4990,0.76),(5005,0.72),(5020,0.7),(5035,0.73),(5050,0.71),(5065,0.74),(5080,0.72),(5095,0.74),(5110,0.73),(5125,0.77),(5140,0.75),(5155,0.76),(5170,0.73),(5185,0.75),(5200,0.72),(5215,0.74),(5230,0.71),(5245,0.73),(5260,0.7),(5275,0.72),(5290,0.7),(5305,0.73),(5320,0.71),(5335,0.74),(5350,0.72),(5365,0.73),(5380,0.71),(5395,0.74),(5410,0.72),(5425,0.73),(5440,0.71),(5455,0.72),(5470,0.74),(5485,0.73),(5500,0.78),(5515,0.75),(5530,0.72),(5545,0.7),(5560,0.67),(5575,0.72),(5590,0.74),(5605,0.75),(5620,0.76),(5635,0.77),(5650,0.76),(5665,0.79),(5680,0.78),(5695,0.8),(5710,0.82),(5725,0.83),(5740,0.81),(5755,0.83),(5770,0.8),(6050,0.8),(6058,0.85),(6070,0.84),(6085,0.86),(6100,0.87),(6115,0.85),(6130,0.9),(6145,0.88),(6160,0.89),(6175,0.87),(6190,0.88),(6205,0.86),(6220,0.87),(6235,0.85),(6250,0.86),(6265,0.84),(6280,0.85),(6295,0.83),(6310,0.84),(6325,0.82),(6340,0.84),(6355,0.83),(6370,0.81),(6385,0.82),(6400,0.8),(6415,0.82),(6430,0.81),(6445,0.8),(6460,0.82),(6475,0.81),(6490,0.8),(6498,0.69),(6506,0.79),(6520,0.77),(6535,0.76),(6550,0.75),(6565,0.74),(6580,0.75),(6600,0.75),(6620,0.76),(6640,0.77),(6660,0.78),(6680,0.79),(6700,0.81),(6720,0.83),(6740,0.85),(6760,0.88),(6780,0.9),(6800,0.92),(6815,0.93),(6830,0.91),(6850,0.9),(6870,0.92),(6885,0.96),(6900,1.0),(6915,1.1),(6925,1.25),(6937,1.42),(6948,1.3),(6958,1.1),(6968,0.95),(6978,0.88),(6990,0.89),(7010,0.9),(7030,0.88),(7050,0.85),(7070,0.84),(7090,0.82),(7110,0.8),(7130,0.78),(7150,0.76),(7170,0.75),(7190,0.73),(7210,0.72),(7230,0.74),(7250,0.73),(7270,0.74),(7290,0.75),(7310,0.74),(7330,0.73),(7350,0.75),(7370,0.74),(7390,0.73),(7410,0.74),(7430,0.71),(7450,0.69),(7470,0.68),(7490,0.67),(7510,0.68),(7530,0.67),(7550,0.66),(7570,0.67),(7590,0.66),(7605,0.63),(7620,0.66),(7640,0.67),(7660,0.68),(7680,0.67),(7700,0.69),(7720,0.7),(7740,0.71),(7760,0.7),(7780,0.7),(7800,0.69),(7820,0.69),(7840,0.7),(7860,0.71),(7880,0.72),(7900,0.72),(7920,0.71),(7940,0.72),(7960,0.71),(7980,0.7),(8000,0.71),(8020,0.7),(8040,0.69),(8060,0.68),(8080,0.69),(8100,0.68),(8120,0.67),(8140,0.68),(8160,0.67),(8180,0.66),(8200,0.67),(8220,0.66),(8240,0.67),(8260,0.66),(8280,0.65),(8300,0.67),(8320,0.66),(8340,0.65),(8360,0.66),(8380,0.65),(8400,0.65),(8420,0.66),(8440,0.65),(8460,0.66),(8475,0.68),(8487,0.705),(8500,0.68),(8520,0.66),(8540,0.65),(8560,0.64),(8580,0.65),(8600,0.64),(8620,0.63),(8640,0.64),(8660,0.63),(8680,0.64),(8700,0.63),(8720,0.62),(8740,0.63),(8760,0.62),(8780,0.63),(8800,0.62),(8820,0.63),(8840,0.62),(8860,0.63),(8880,0.61),(8900,0.62),(8920,0.61),(8940,0.62),(8960,0.61),(8980,0.6),(9000,0.61),(9020,0.59),(9040,0.6),(9060,0.58),(9080,0.57),(9100,0.59),(9110,0.55),(9120,0.59),(9140,0.56),(9160,0.58),(9180,0.57),(9200,0.59),(9220,0.58),(9232,0.62),(9245,0.58),(9260,0.57),(9290,0.57)]
J1616_B = [(4798,0.16),(4815,0.15),(4830,0.13),(4845,0.115),(4860,0.125),(4880,0.13),(4900,0.135),(4950,0.14),(5000,0.135),(5050,0.14),(5100,0.145),(5150,0.14),(5200,0.145),(5250,0.14),(5300,0.145),(5350,0.15),(5400,0.145),(5450,0.15),(5500,0.145),(5550,0.15),(5600,0.15),(5650,0.155),(5700,0.155),(5740,0.16),(5770,0.155),(6050,0.155),(6080,0.165),(6110,0.155),(6150,0.15),(6200,0.155),(6250,0.15),(6300,0.155),(6350,0.15),(6400,0.155),(6450,0.15),(6500,0.15),(6550,0.145),(6562,0.115),(6575,0.145),(6620,0.15),(6700,0.155),(6800,0.155),(6900,0.155),(6950,0.165),(7000,0.155),(7100,0.15),(7200,0.145),(7300,0.15),(7400,0.15),(7500,0.145),(7600,0.145),(7700,0.14),(7800,0.14),(7900,0.14),(8000,0.14),(8100,0.14),(8200,0.135),(8300,0.135),(8400,0.135),(8500,0.135),(8515,0.09),(8530,0.13),(8600,0.13),(8650,0.13),(8665,0.115),(8680,0.13),(8750,0.13),(8800,0.135),(8900,0.13),(9000,0.13),(9050,0.125),(9100,0.13),(9150,0.135),(9200,0.14),(9250,0.145),(9290,0.14)]

J1649_A = [(4798,1.18),(4815,1.2),(4830,1.15),(4845,1.2),(4860,1.16),(4875,1.21),(4890,1.18),(4905,1.2),(4920,1.17),(4935,1.22),(4950,1.2),(4965,1.23),(4980,1.19),(5000,1.2),(5020,1.18),(5040,1.17),(5060,1.16),(5080,1.17),(5100,1.15),(5120,1.16),(5140,1.17),(5160,1.15),(5180,1.16),(5200,1.14),(5220,1.16),(5240,1.15),(5260,1.17),(5280,1.14),(5300,1.16),(5320,1.15),(5340,1.17),(5360,1.15),(5380,1.17),(5400,1.18),(5420,1.2),(5440,1.22),(5460,1.24),(5480,1.26),(5500,1.27),(5520,1.29),(5540,1.3),(5560,1.29),(5580,1.31),(5600,1.3),(5620,1.34),(5640,1.3),(5660,1.31),(5680,1.3),(5700,1.32),(5720,1.31),(5740,1.33),(5770,1.33),(6050,1.33),(6055,1.42),(6065,1.34),(6080,1.33),(6100,1.28),(6120,1.27),(6140,1.25),(6160,1.27),(6180,1.26),(6200,1.27),(6220,1.26),(6240,1.25),(6260,1.27),(6280,1.24),(6300,1.21),(6320,1.2),(6340,1.19),(6360,1.18),(6380,1.19),(6400,1.21),(6420,1.22),(6440,1.24),(6460,1.25),(6480,1.27),(6500,1.3),(6520,1.33),(6540,1.37),(6560,1.4),(6580,1.42),(6600,1.45),(6620,1.48),(6635,1.55),(6650,1.68),(6665,1.86),(6679,2.0),(6690,1.98),(6705,1.87),(6720,1.78),(6740,1.67),(6760,1.58),(6780,1.48),(6800,1.4),(6820,1.32),(6840,1.25),(6860,1.2),(6880,1.16),(6900,1.15),(6920,1.14),(6940,1.13),(6960,1.14),(6980,1.15),(7000,1.14),(7020,1.16),(7040,1.15),(7060,1.17),(7080,1.16),(7100,1.15),(7120,1.14),(7140,1.13),(7160,1.12),(7180,1.13),(7200,1.11),(7220,1.12),(7240,1.1),(7260,1.11),(7280,1.1),(7300,1.11),(7320,1.1),(7340,1.12),(7360,1.1),(7380,1.11),(7400,1.12),(7420,1.14),(7440,1.16),(7466,1.2),(7480,1.17),(7500,1.15),(7520,1.13),(7540,1.12),(7560,1.13),(7580,1.14),(7592,1.15),(7598,1.33),(7606,1.14),(7620,1.15),(7640,1.18),(7660,1.16),(7680,1.14),(7700,1.13),(7720,1.12),(7740,1.11),(7760,1.12),(7780,1.1),(7800,1.11),(7820,1.09),(7840,1.1),(7860,1.08),(7880,1.09),(7900,1.08),(7920,1.09),(7940,1.1),(7960,1.1),(7980,1.11),(8000,1.1),(8020,1.09),(8040,1.08),(8060,1.07),(8080,1.08),(8100,1.07),(8120,1.08),(8140,1.1),(8160,1.12),(8175,1.15),(8190,1.12),(8210,1.08),(8230,1.07),(8250,1.06),(8270,1.07),(8290,1.05),(8310,1.06),(8330,1.04),(8350,1.05),(8370,1.04),(8390,1.05),(8410,1.04),(8430,1.03),(8450,1.04),(8470,1.03),(8490,1.02),(8510,1.03),(8530,1.02),(8550,1.03),(8570,1.02),(8590,1.02),(8610,1.01),(8630,1.02),(8650,1.01),(8670,1.0),(8690,1.01),(8710,1.0),(8730,0.99),(8750,0.98),(8770,0.97),(8790,0.98),(8810,0.97),(8830,0.96),(8850,0.97),(8870,0.97),(8890,0.98),(8900,1.06),(8910,0.98),(8920,0.94),(8935,0.99),(8950,0.96),(8965,1.0),(8980,0.93),(9000,0.92),(9020,0.9),(9040,0.88),(9060,0.86),(9080,0.85),(9100,0.84),(9120,0.86),(9140,0.83),(9160,0.86),(9180,0.84),(9200,0.88),(9215,0.92),(9230,0.95),(9245,0.92),(9260,0.88),(9285,0.83)]
J1649_B = [(4798,0.25),(4815,0.27),(4830,0.24),(4840,0.26),(4850,0.2),(4860,0.26),(4880,0.25),(4900,0.26),(4950,0.255),(5000,0.26),(5050,0.255),(5100,0.26),(5150,0.265),(5200,0.26),(5250,0.27),(5300,0.265),(5350,0.27),(5400,0.27),(5450,0.275),(5500,0.28),(5550,0.285),(5600,0.28),(5650,0.285),(5700,0.28),(5750,0.29),(5770,0.28),(6050,0.28),(6060,0.29),(6100,0.285),(6120,0.27),(6150,0.285),(6200,0.28),(6250,0.285),(6300,0.28),(6350,0.28),(6400,0.275),(6450,0.28),(6500,0.275),(6540,0.27),(6555,0.2),(6570,0.27),(6600,0.285),(6650,0.29),(6700,0.29),(6750,0.29),(6800,0.285),(6850,0.285),(6900,0.28),(6950,0.28),(7000,0.28),(7050,0.275),(7100,0.28),(7150,0.275),(7200,0.275),(7250,0.27),(7300,0.27),(7350,0.27),(7400,0.27),(7450,0.265),(7500,0.265),(7550,0.27),(7600,0.3),(7612,0.275),(7650,0.265),(7700,0.26),(7750,0.265),(7800,0.26),(7850,0.26),(7900,0.255),(7950,0.26),(8000,0.26),(8050,0.25),(8100,0.255),(8150,0.25),(8200,0.25),(8250,0.25),(8300,0.245),(8350,0.245),(8400,0.24),(8450,0.24),(8500,0.24),(8520,0.235),(8530,0.215),(8540,0.235),(8600,0.24),(8640,0.235),(8650,0.215),(8660,0.235),(8700,0.235),(8750,0.235),(8800,0.23),(8850,0.235),(8900,0.24),(8950,0.235),(9000,0.23),(9050,0.235),(9100,0.23),(9150,0.225),(9200,0.23),(9250,0.225),(9285,0.2)]

J1739_A = [(4798,1.15),(4805,1.08),(4815,1.12),(4825,1.06),(4835,1.1),(4845,1.05),(4855,1.12),(4865,1.04),(4875,1.1),(4885,1.03),(4895,1.1),(4910,1.08),(4925,1.12),(4940,1.09),(4955,1.11),(4970,1.08),(4985,1.12),(5000,1.1),(5015,1.13),(5030,1.11),(5045,1.13),(5060,1.12),(5075,1.14),(5090,1.16),(5105,1.17),(5120,1.15),(5135,1.13),(5150,1.15),(5165,1.12),(5180,1.14),(5195,1.12),(5210,1.11),(5225,1.13),(5240,1.1),(5255,1.11),(5270,1.1),(5280,0.97),(5290,1.1),(5305,1.12),(5320,1.15),(5335,1.12),(5350,1.14),(5365,1.12),(5380,1.13),(5395,1.11),(5410,1.13),(5425,1.11),(5440,1.12),(5455,1.11),(5470,1.13),(5485,1.12),(5500,1.15),(5515,1.11),(5530,1.1),(5545,1.09),(5560,1.08),(5575,1.09),(5590,1.07),(5605,1.08),(5620,1.06),(5635,1.07),(5650,1.06),(5665,1.07),(5680,1.05),(5695,1.06),(5710,1.05),(5725,1.04),(5740,1.05),(5755,1.03),(5765,1.04),(6045,1.04),(6060,1.07),(6080,1.1),(6100,1.15),(6120,1.23),(6140,1.33),(6159,1.42),(6170,1.38),(6180,1.32),(6195,1.25),(6210,1.15),(6225,1.05),(6240,1.0),(6250,1.02),(6260,0.99),(6280,0.98),(6300,0.97),(6320,0.96),(6340,0.93),(6360,0.92),(6380,0.92),(6400,0.93),(6420,0.94),(6440,0.95),(6460,0.94),(6480,0.93),(6500,0.93),(6520,0.92),(6540,0.92),(6560,0.91),(6580,0.9),(6600,0.88),(6620,0.86),(6640,0.84),(6660,0.82),(6680,0.8),(6700,0.8),(6720,0.81),(6740,0.8),(6760,0.81),(6780,0.79),(6800,0.79),(6820,0.8),(6840,0.79),(6855,0.8),(6865,0.85),(6875,0.8),(6890,0.81),(6910,0.79),(6930,0.8),(6950,0.81),(6970,0.8),(6990,0.81),(7010,0.81),(7030,0.8),(7050,0.81),(7070,0.8),(7090,0.79),(7110,0.8),(7130,0.79),(7150,0.78),(7170,0.79),(7185,0.76),(7200,0.8),(7210,0.77),(7222,0.83),(7232,0.77),(7245,0.77),(7260,0.75),(7280,0.74),(7300,0.73),(7320,0.72),(7340,0.71),(7360,0.71),(7380,0.7),(7400,0.69),(7420,0.69),(7440,0.68),(7460,0.68),(7480,0.69),(7500,0.7),(7520,0.7),(7540,0.71),(7560,0.7),(7575,0.65),(7585,0.72),(7592,0.77),(7600,0.68),(7608,0.63),(7618,0.68),(7630,0.67),(7650,0.66),(7670,0.65),(7690,0.64),(7710,0.64),(7730,0.63),(7750,0.62),(7770,0.62),(7790,0.61),(7810,0.61),(7830,0.6),(7850,0.6),(7870,0.59),(7890,0.6),(7910,0.59),(7930,0.59),(7950,0.59),(7970,0.58),(7990,0.58),(8010,0.58),(8030,0.57),(8050,0.57),(8070,0.56),(8090,0.56),(8110,0.56),(8130,0.55),(8150,0.55),(8170,0.55),(8190,0.55),(8210,0.55),(8230,0.54),(8250,0.54),(8270,0.53),(8290,0.52),(8310,0.51),(8330,0.51),(8350,0.5),(8370,0.5),(8390,0.5),(8410,0.49),(8430,0.5),(8450,0.5),(8470,0.5),(8490,0.51),(8505,0.52),(8515,0.53),(8530,0.5),(8550,0.49),(8570,0.48),(8590,0.48),(8610,0.47),(8630,0.47),(8650,0.46),(8670,0.47),(8690,0.46),(8710,0.46),(8730,0.46),(8750,0.45),(8770,0.44),(8790,0.43),(8810,0.42),(8830,0.41),(8850,0.41),(8870,0.4),(8890,0.41),(8910,0.41),(8930,0.42),(8950,0.42),(8970,0.42),(8990,0.43),(9010,0.44),(9030,0.46),(9050,0.45),(9070,0.44),(9090,0.45),(9110,0.43),(9130,0.45),(9150,0.42),(9170,0.43),(9190,0.41),(9210,0.42),(9230,0.4),(9250,0.39),(9270,0.41),(9290,0.44),(9300,0.46)]
J1739_B = [(4798,0.04),(4820,0.035),(4840,0.045),(4860,0.035),(4880,0.04),(4900,0.045),(4920,0.03),(4940,0.04),(4960,0.035),(4980,0.04),(5000,0.045),(5020,0.035),(5040,0.04),(5060,0.045),(5080,0.035),(5100,0.04),(5120,0.045),(5140,0.035),(5160,0.04),(5180,0.045),(5200,0.04),(5250,0.05),(5300,0.05),(5350,0.055),(5400,0.055),(5450,0.06),(5500,0.055),(5550,0.06),(5600,0.06),(5650,0.065),(5700,0.065),(5740,0.075),(5765,0.065),(6045,0.06),(6060,0.07),(6100,0.075),(6150,0.075),(6170,0.06),(6200,0.05),(6250,0.055),(6300,0.07),(6350,0.08),(6400,0.1),(6450,0.11),(6500,0.12),(6530,0.13),(6560,0.12),(6600,0.115),(6650,0.1),(6700,0.09),(6750,0.08),(6800,0.075),(6850,0.08),(6900,0.09),(6950,0.11),(7000,0.13),(7040,0.16),(7055,0.13),(7075,0.11),(7100,0.1),(7130,0.08),(7160,0.09),(7200,0.11),(7250,0.14),(7300,0.16),(7350,0.18),(7400,0.2),(7450,0.21),(7500,0.22),(7550,0.235),(7590,0.25),(7610,0.21),(7630,0.24),(7650,0.18),(7665,0.145),(7680,0.16),(7700,0.17),(7750,0.18),(7800,0.19),(7850,0.2),(7900,0.21),(7950,0.22),(8000,0.235),(8050,0.245),(8100,0.255),(8150,0.26),(8190,0.265),(8200,0.2),(8210,0.26),(8250,0.255),(8300,0.25),(8350,0.245),(8400,0.235),(8450,0.23),(8500,0.22),(8530,0.23),(8550,0.2),(8570,0.235),(8600,0.245),(8650,0.25),(8700,0.26),(8750,0.265),(8800,0.27),(8850,0.265),(8900,0.27),(8950,0.28),(9000,0.29),(9020,0.285),(9050,0.31),(9100,0.32),(9150,0.315),(9200,0.31),(9250,0.305),(9300,0.32)]

J2050_A = [(4798,0.68),(4815,0.66),(4830,0.71),(4845,0.7),(4860,0.74),(4875,0.72),(4890,0.75),(4905,0.73),(4920,0.78),(4935,0.85),(4950,1.0),(4962,1.15),(4975,1.45),(4985,1.8),(4995,2.1),(5003,2.21),(5012,2.05),(5022,1.7),(5032,1.35),(5045,1.1),(5060,0.98),(5075,0.92),(5090,0.85),(5105,0.8),(5120,0.73),(5135,0.76),(5150,0.75),(5165,0.77),(5180,0.76),(5195,0.78),(5210,0.77),(5225,0.8),(5240,0.78),(5255,0.8),(5270,0.79),(5285,0.84),(5300,0.82),(5315,0.81),(5330,0.82),(5345,0.8),(5360,0.83),(5375,0.84),(5390,0.86),(5405,0.8),(5420,0.75),(5435,0.72),(5450,0.7),(5465,0.69),(5480,0.66),(5495,0.68),(5510,0.67),(5525,0.7),(5540,0.69),(5555,0.72),(5570,0.7),(5585,0.73),(5600,0.72),(5615,0.7),(5630,0.78),(5645,0.82),(5660,0.8),(5675,0.77),(5690,0.74),(5705,0.74),(5720,0.73),(5735,0.74),(5750,0.74),(5758,0.84),(6060,0.82),(6075,0.9),(6090,0.98),(6105,1.03),(6120,1.04),(6135,1.06),(6150,1.1),(6160,1.2),(6168,1.28),(6178,1.25),(6190,1.15),(6205,1.02),(6220,0.9),(6235,0.82),(6250,0.78),(6265,0.75),(6280,0.72),(6295,0.71),(6310,0.69),(6325,0.7),(6340,0.68),(6355,0.67),(6370,0.66),(6385,0.67),(6400,0.66),(6415,0.68),(6430,0.67),(6445,0.69),(6460,0.68),(6475,0.7),(6490,0.69),(6510,0.7),(6530,0.69),(6550,0.71),(6570,0.7),(6590,0.7),(6610,0.69),(6630,0.71),(6650,0.72),(6670,0.74),(6690,0.75),(6710,0.76),(6730,0.75),(6750,0.74),(6770,0.73),(6790,0.72),(6810,0.73),(6830,0.71),(6850,0.72),(6870,0.7),(6890,0.71),(6910,0.69),(6930,0.71),(6950,0.7),(6970,0.72),(6990,0.7),(7010,0.71),(7030,0.72),(7050,0.73),(7070,0.71),(7090,0.7),(7110,0.72),(7130,0.71),(7150,0.73),(7170,0.74),(7190,0.72),(7210,0.74),(7230,0.73),(7250,0.71),(7270,0.75),(7290,0.74),(7310,0.76),(7330,0.75),(7350,0.77),(7370,0.76),(7390,0.77),(7410,0.78),(7430,0.77),(7450,0.79),(7470,0.8),(7490,0.81),(7510,0.82),(7530,0.81),(7550,0.8),(7570,0.82),(7590,0.84),(7605,0.93),(7615,0.85),(7630,0.82),(7650,0.79),(7670,0.8),(7690,0.81),(7710,0.8),(7730,0.82),(7750,0.81),(7770,0.83),(7790,0.84),(7810,0.86),(7830,0.84),(7850,0.85),(7870,0.84),(7890,0.86),(7910,0.82),(7930,0.81),(7950,0.84),(7970,0.87),(7990,0.85),(8010,0.84),(8030,0.86),(8050,0.85),(8070,0.84),(8090,0.85),(8110,0.86),(8130,0.84),(8150,0.85),(8170,0.88),(8185,0.91),(8200,0.86),(8220,0.85),(8240,0.84),(8260,0.85),(8280,0.83),(8300,0.85),(8320,0.83),(8340,0.82),(8360,0.8),(8380,0.82),(8400,0.81),(8420,0.8),(8440,0.81),(8460,0.8),(8480,0.82),(8500,0.81),(8520,0.77),(8540,0.73),(8560,0.72),(8580,0.75),(8600,0.76),(8620,0.75),(8640,0.77),(8660,0.76),(8680,0.78),(8700,0.78),(8720,0.79),(8740,0.8),(8760,0.8),(8780,0.82),(8800,0.84),(8820,0.86),(8840,0.88),(8860,0.9),(8880,0.89),(8900,0.87),(8920,0.85),(8940,0.82),(8955,0.84),(8970,0.9),(8985,1.05),(9000,1.25),(9015,1.33),(9028,1.38),(9040,1.34),(9052,1.3),(9065,1.15),(9078,0.98),(9090,0.88),(9105,0.84),(9120,0.8),(9140,0.82),(9160,0.79),(9180,0.8),(9200,0.78),(9220,0.79),(9240,0.76),(9260,0.77),(9280,0.75),(9300,0.74)]
J2050_B = [(4798,0.12),(4820,0.11),(4840,0.125),(4860,0.1),(4880,0.12),(4900,0.09),(4920,0.115),(4940,0.12),(4960,0.14),(4980,0.17),(4995,0.2),(5010,0.23),(5025,0.2),(5040,0.16),(5060,0.13),(5080,0.12),(5100,0.1),(5120,0.11),(5140,0.09),(5160,0.1),(5180,0.08),(5200,0.11),(5220,0.1),(5240,0.12),(5260,0.11),(5280,0.13),(5300,0.12),(5320,0.11),(5340,0.13),(5360,0.12),(5380,0.14),(5400,0.12),(5420,0.13),(5440,0.11),(5460,0.13),(5480,0.12),(5500,0.14),(5520,0.13),(5540,0.14),(5560,0.12),(5580,0.14),(5600,0.13),(5620,0.15),(5640,0.14),(5660,0.16),(5680,0.14),(5700,0.15),(5720,0.14),(5740,0.16),(5760,0.155),(6060,0.165),(6080,0.175),(6100,0.16),(6120,0.18),(6140,0.17),(6160,0.175),(6180,0.16),(6200,0.14),(6220,0.13),(6240,0.15),(6260,0.14),(6280,0.16),(6300,0.15),(6330,0.17),(6360,0.16),(6400,0.17),(6430,0.18),(6460,0.17),(6500,0.18),(6540,0.17),(6580,0.175),(6620,0.17),(6660,0.18),(6700,0.17),(6740,0.175),(6780,0.16),(6820,0.155),(6860,0.16),(6900,0.17),(6940,0.185),(6980,0.2),(7020,0.19),(7060,0.2),(7100,0.19),(7140,0.18),(7180,0.2),(7220,0.21),(7260,0.2),(7300,0.22),(7340,0.21),(7380,0.22),(7420,0.23),(7460,0.22),(7500,0.24),(7540,0.23),(7580,0.245),(7600,0.28),(7615,0.24),(7640,0.23),(7680,0.24),(7720,0.23),(7760,0.24),(7800,0.245),(7840,0.235),(7880,0.245),(7920,0.24),(7960,0.25),(8000,0.245),(8040,0.255),(8080,0.25),(8120,0.255),(8160,0.25),(8200,0.26),(8240,0.25),(8280,0.255),(8320,0.25),(8360,0.26),(8400,0.25),(8440,0.255),(8480,0.25),(8520,0.245),(8540,0.23),(8550,0.18),(8560,0.24),(8600,0.255),(8640,0.25),(8660,0.23),(8670,0.19),(8680,0.25),(8720,0.26),(8760,0.255),(8800,0.265),(8840,0.26),(8880,0.27),(8920,0.265),(8960,0.27),(9000,0.275),(9040,0.27),(9080,0.28),(9120,0.275),(9160,0.28),(9200,0.285),(9240,0.29),(9270,0.295),(9300,0.29)]

J2056_A = [(4798,0.93),(4810,0.97),(4825,0.95),(4840,0.98),(4855,0.96),(4870,0.99),(4885,0.97),(4900,1.0),(4915,0.96),(4930,1.01),(4945,0.97),(4960,0.95),(4975,0.96),(4990,0.93),(5005,0.95),(5020,0.98),(5035,0.96),(5050,0.93),(5065,0.95),(5080,0.92),(5095,0.93),(5110,0.91),(5125,0.94),(5140,0.9),(5155,0.93),(5170,0.9),(5185,0.92),(5200,0.95),(5215,0.92),(5230,0.94),(5245,0.95),(5252,1.03),(5262,0.95),(5275,0.92),(5290,0.93),(5305,0.9),(5320,0.92),(5335,0.91),(5350,0.93),(5365,0.9),(5380,0.88),(5395,0.86),(5410,0.83),(5425,0.84),(5440,0.82),(5455,0.85),(5470,0.83),(5485,0.86),(5500,0.84),(5515,0.85),(5530,0.83),(5545,0.85),(5560,0.82),(5575,0.84),(5590,0.82),(5605,0.83),(5620,0.81),(5635,0.83),(5650,0.8),(5665,0.82),(5680,0.79),(5695,0.8),(5710,0.78),(5725,0.8),(5740,0.82),(5752,0.85),(5760,0.8),(5770,0.77),(6050,0.725),(6060,0.68),(6065,0.66),(6075,0.72),(6085,0.75),(6095,0.7),(6110,0.63),(6125,0.61),(6140,0.6),(6160,0.6),(6180,0.59),(6200,0.58),(6215,0.6),(6230,0.62),(6250,0.68),(6270,0.76),(6285,0.79),(6300,0.76),(6315,0.7),(6330,0.63),(6345,0.58),(6360,0.6),(6375,0.62),(6390,0.63),(6405,0.6),(6420,0.57),(6440,0.55),(6455,0.54),(6470,0.57),(6490,0.61),(6505,0.64),(6520,0.61),(6540,0.59),(6560,0.6),(6580,0.64),(6600,0.68),(6620,0.76),(6640,0.87),(6655,0.94),(6670,0.9),(6685,0.8),(6700,0.72),(6720,0.68),(6740,0.66),(6760,0.62),(6780,0.58),(6800,0.56),(6820,0.57),(6840,0.6),(6860,0.63),(6880,0.66),(6900,0.68),(6920,0.69),(6940,0.68),(6960,0.67),(6980,0.68),(7000,0.67),(7020,0.65),(7040,0.66),(7060,0.64),(7080,0.67),(7100,0.65),(7120,0.62),(7140,0.6),(7160,0.6),(7180,0.57),(7200,0.54),(7220,0.52),(7240,0.51),(7260,0.49),(7280,0.48),(7300,0.48),(7320,0.49),(7340,0.5),(7360,0.55),(7380,0.62),(7400,0.75),(7420,0.95),(7440,1.2),(7452,1.37),(7465,1.2),(7480,0.95),(7500,0.8),(7520,0.68),(7540,0.65),(7560,0.64),(7580,0.62),(7600,0.72),(7610,0.6),(7625,0.52),(7640,0.51),(7655,0.58),(7668,0.93),(7678,0.85),(7690,0.66),(7705,0.58),(7720,0.52),(7740,0.48),(7760,0.46),(7780,0.45),(7800,0.44),(7820,0.43),(7840,0.44),(7860,0.46),(7880,0.49),(7900,0.52),(7920,0.56),(7935,0.58),(7950,0.56),(7970,0.55),(7990,0.52),(8010,0.51),(8030,0.53),(8050,0.52),(8070,0.54),(8090,0.55),(8110,0.53),(8130,0.54),(8150,0.55),(8170,0.53),(8190,0.52),(8210,0.5),(8230,0.49),(8250,0.46),(8270,0.44),(8290,0.43),(8310,0.42),(8330,0.43),(8350,0.41),(8370,0.41),(8390,0.4),(8410,0.41),(8430,0.4),(8450,0.4),(8470,0.41),(8490,0.41),(8510,0.4),(8530,0.39),(8550,0.39),(8570,0.38),(8590,0.38),(8610,0.39),(8630,0.38),(8650,0.38),(8670,0.39),(8690,0.38),(8710,0.38),(8730,0.38),(8750,0.38),(8770,0.39),(8790,0.38),(8810,0.38),(8830,0.39),(8850,0.38),(8870,0.39),(8890,0.38),(8910,0.39),(8930,0.4),(8950,0.41),(8970,0.43),(8990,0.46),(9005,0.49),(9020,0.47),(9040,0.44),(9060,0.41),(9080,0.39),(9100,0.39),(9120,0.38),(9140,0.39),(9160,0.38),(9180,0.39),(9200,0.37),(9220,0.39),(9240,0.38),(9260,0.38),(9280,0.37),(9300,0.38)]
J2056_B = [(4798,0.11),(4820,0.105),(4840,0.12),(4860,0.1),(4880,0.11),(4900,0.08),(4920,0.1),(4940,0.105),(4960,0.095),(5000,0.11),(5050,0.1),(5100,0.105),(5150,0.11),(5200,0.105),(5250,0.1),(5300,0.11),(5350,0.115),(5400,0.11),(5450,0.115),(5500,0.11),(5550,0.115),(5600,0.115),(5650,0.12),(5700,0.115),(5760,0.125),(5775,0.13),(6050,0.13),(6070,0.12),(6100,0.125),(6150,0.12),(6200,0.125),(6250,0.12),(6300,0.125),(6350,0.13),(6400,0.125),(6450,0.13),(6500,0.125),(6560,0.11),(6580,0.125),(6650,0.13),(6700,0.125),(6800,0.13),(6900,0.125),(7000,0.13),(7100,0.13),(7200,0.125),(7300,0.13),(7400,0.13),(7500,0.135),(7560,0.13),(7600,0.16),(7620,0.14),(7660,0.13),(7700,0.125),(7800,0.125),(7900,0.125),(8000,0.13),(8100,0.125),(8200,0.12),(8300,0.125),(8400,0.125),(8500,0.12),(8600,0.12),(8700,0.125),(8800,0.12),(8900,0.12),(9000,0.125),(9050,0.12),(9100,0.125),(9200,0.13),(9250,0.13),(9280,0.14),(9300,0.15)]

# Rest-frame wavelengths (Å) of the marked emission lines
LINE_LIST = [("NV", 1240), ("OI", 1335), ("SiIV+OIV", 1400), ("CIV", 1549), ("CIII]", 1909),
             ("CII]", 2326), ("MgII", 2798), ("[NeV]", 3346), ("[NeV]", 3426), ("[OII]", 3727),
             ("[NeIII]", 3869), ("Hε", 3970), ("Hδ", 4102), ("Hγ", 4340), ("Hβ", 4861),
             ("[OIII]", 4959), ("[OIII]", 5007), ("[NI]", 5200), ("HeI", 5876)]

X_TICKS = [5000, 5500, 6000, 6500, 7000, 7500, 8000, 8500, 9000]
WL_MIN = 4795

# name, redshift, flux exponent, y-limit, y-ticks, x-limit, spectra
OBJECTS = [
    ("J0120-0542", "2.292", -17, 9.95, [0, 2, 4, 6, 8], 9252, J0120_A, J0120_B),
    ("J0230-3201", "2.872", -16, 2.55, [0, 0.5, 1, 1.5, 2, 2.5], 9300, J0230_A, J0230_B),
    ("J0315-4608", "2.698", -16, 1.065, [0, 0.2, 0.4, 0.6, 0.8, 1.0], 9300, J0315_A, J0315_B),
    ("J0408-3503", "0.883", -16, 1.36, [0, 0.2, 0.4, 0.6, 0.8, 1.0, 1.2], 9290, J0408_A, J0408_B),
    ("J0437-3711", "2.146", -16, 1.135, [0, 0.2, 0.4, 0.6, 0.8, 1.0], 9300, J0437_A, J0437_B),
    ("J0528-2838", "2.850", -16, 1.237, [0, 0.2, 0.4, 0.6, 0.8, 1.0, 1.2], 9300, J0528_A, J0528_B),
    ("J1113-1621", "0.727", -17, 3.78, [0, 0.5, 1, 1.5, 2, 2.5, 3, 3.5], 9300, J1113_A, J1113_B),
    ("J1616-2149", "1.484", -16, 1.492, [0, 0.2, 0.4, 0.6, 0.8, 1.0, 1.2, 1.4], 9290, J1616_A, J1616_B),
    ("J1649+0812", "1.390", -16, 2.11, [0, 0.25, 0.5, 0.75, 1.0, 1.25, 1.5, 1.75, 2.0], 9285, J1649_A, J1649_B),
    ("J1739+1847", "1.201", -16, 1.492, [0, 0.2, 0.4, 0.6, 0.8, 1.0, 1.2, 1.4], 9300, J1739_A, J1739_B),
    ("J2050-6657", "2.230", -16, 2.319, [0, 0.5, 1, 1.5, 2], 9300, J2050_A, J2050_B),
    ("J2056+1013", "0.533", -16, 1.443, [0, 0.2, 0.4, 0.6, 0.8, 1.0, 1.2, 1.4], 9300, J2056_A, J2056_B),
]

# vertical placement of the line names (fraction of the panel height, from the bottom)
LABEL_FRAC = [0.704, 0.704, 0.807, 0.768, 0.768, 0.717, 0.785, 0.788, 0.777, 0.759, 0.752, 0.755]
# line names that sit at the right edge are pulled back onto their line (Å)
LABEL_SHIFT = {("J1616-2149", "[OII]"): -85, ("J1649+0812", "[NeIII]"): -75}

PURPLE = "#8a2be2"
ORANGE = "#ffa500"
FONT = "DejaVu Sans"
PANEL_H = 259
PX_PER_A = 549 / (9300 - WL_MIN)
SUP = {-16: "⁻¹⁶", -17: "⁻¹⁷"}


def make_panel(obj, label_frac):
    name, z, exp, ymax, yticks, xmax, spec_a, spec_b = obj
    w = round((xmax - WL_MIN) * PX_PER_A)
    h = PANEL_H
    xs = alt.Scale(domain=[WL_MIN, xmax], nice=False, zero=False)
    ys = alt.Scale(domain=[0, ymax], nice=False, zero=False)
    x_axis = alt.Axis(title="Observed Wavelength [Å]", values=X_TICKS, format="d",
                      labelPadding=1, titlePadding=2)
    y_kw = dict(title=f"Flux [10{SUP[exp]} erg s⁻¹ cm⁻² Å⁻¹]", values=yticks, format=".1f")
    if 0.25 in yticks:
        y_kw["labelExpr"] = ("datum.value == 0.25 ? '0.2' : datum.value == 1.25 ? '1.2' : "
                             "format(datum.value, '.1f')")
    y_axis = alt.Axis(**y_kw)

    zval = float(z)
    lines = []
    for lab, rest in LINE_LIST:
        lam = rest * (1 + zval)
        if WL_MIN < lam < xmax:
            lines.append((lab, lam, lam + LABEL_SHIFT.get((name, lab), 0)))
    df_lines = pd.DataFrame(lines, columns=["label", "lam", "lab_x"])
    df_a = pd.DataFrame(spec_a, columns=["wl", "flux"])
    df_b = pd.DataFrame(spec_b, columns=["wl", "flux"])
    df_tag = pd.DataFrame({"name": [name], "z": [f"z = {z}"]})

    rules = alt.Chart(df_lines).mark_rule(
        color="#a0a0a0", strokeDash=[2, 2], strokeWidth=0.9
    ).encode(x=alt.X("lam:Q", scale=xs, axis=x_axis))

    line_a = alt.Chart(df_a).mark_line(color=PURPLE, strokeWidth=1.1, clip=True).encode(
        x=alt.X("wl:Q", scale=xs, axis=x_axis),
        y=alt.Y("flux:Q", scale=ys, axis=y_axis),
    )
    line_b = alt.Chart(df_b).mark_line(color=ORANGE, strokeWidth=1.1, clip=True).encode(
        x=alt.X("wl:Q", scale=xs, axis=x_axis),
        y=alt.Y("flux:Q", scale=ys, axis=y_axis),
    )
    labels = alt.Chart(df_lines).mark_text(
        angle=270, align="left", baseline="top", dy=6, fontSize=12, font=FONT,
        fontWeight="normal", color="black"
    ).encode(
        x=alt.X("lab_x:Q", scale=xs, axis=x_axis),
        y=alt.value(h * (1 - label_frac)),
        text="label:N",
    )
    tag_name = alt.Chart(df_tag).mark_text(
        align="right", baseline="top", fontSize=12, font=FONT, fontWeight="normal", color="black"
    ).encode(x=alt.value(w - 9), y=alt.value(5), text="name:N")
    tag_z = alt.Chart(df_tag).mark_text(
        align="right", baseline="top", fontSize=12, font=FONT, fontWeight="normal", color="black"
    ).encode(x=alt.value(w - 9), y=alt.value(21), text="z:N")
    return alt.layer(rules, line_a, line_b, labels, tag_name, tag_z).properties(width=w, height=h)


panels = [make_panel(o, f) for o, f in zip(OBJECTS, LABEL_FRAC)]

chart = alt.concat(
    *panels, columns=2, bounds="flush", align="all",
    spacing=alt.RowColnumber(row=41, column=50),
).properties(
    padding={"left": 2, "top": 2, "right": 0, "bottom": 0},
    background="white",
).configure_view(
    stroke="#3a3a3a", strokeWidth=1
).configure_axis(
    labelFont=FONT, titleFont=FONT, labelFontSize=14, titleFontSize=14,
    titleFontWeight="normal", labelColor="black", titleColor="black",
    tickColor="black", tickSize=4, domain=False, grid=False,
    labelPadding=2, titlePadding=4,
)

chart.save("out.html", embed_options={"renderer": "svg", "actions": False})
